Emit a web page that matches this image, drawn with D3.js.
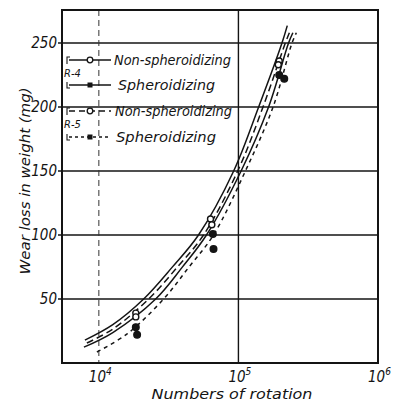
<!DOCTYPE html>
<html><head><meta charset="utf-8">
<script src="https://cdn.jsdelivr.net/npm/d3@7"></script>
<style>body{margin:0;background:#fff}svg{display:block}</style>
</head><body><svg id="c" width="403" height="405"></svg>
<script>
// ---- data ----
const yTicks = [50, 100, 150, 200, 250];
const xTicks = [1e4, 1e5, 1e6];
const xTickExp = ["4", "5", "6"];
const groupLabels = ["R-4", "R-5"];
const seriesNames = ["Non-spheroidizing", "Spheroidizing", "Non-spheroidizing", "Spheroidizing"];

// fitted curves: rotations / wear loss (mg)
const curveR4N_x = [7943, 12590, 20940, 33570, 51760, 92470, 139600, 205100, 223900];
const curveR4N_y = [17.9, 30, 50, 74.9, 100, 150, 200, 250, 263.6];
const curveR5N_x = [8204, 12590, 22750, 36480, 56230, 98850, 150000, 216800, 231700];
const curveR5N_y = [15.6, 26.5, 50, 74.9, 100, 150, 200, 250, 258];
const curveR4S_x = [7816, 12590, 25530, 39630, 59020, 104500, 164400, 228600, 245500];
const curveR4S_y = [12.4, 23.8, 50, 74.9, 100, 150, 200, 250, 258];
const curveR5S_x = [9683, 15850, 29110, 44160, 66220, 112200, 177000, 242100, 260000];
const curveR5S_y = [8.6, 22.5, 50, 74.9, 100, 150, 200, 250, 258];

// measured points
const ptR4N_x = [18400, 63100, 196000], ptR4N_y = [39, 112.5, 236];
const ptR5N_x = [18400, 64500, 193000], ptR5N_y = [36, 108, 233];
const ptR4S_x = [18400, 65600, 196000], ptR4S_y = [28, 100.8, 225];
const ptR5S_x = [18800, 66300, 213000], ptR5S_y = [22, 89, 222];

// ---- chart ----
const svg = d3.select("#c");
const L = 62, R = 378, T = 10, B = 363;
const x = d3.scaleLog().domain([Math.pow(10, 3.736), 1e6]).range([L, R]);
const y = d3.scaleLinear().domain([0, 275.8]).range([B, T]);
const ink = "#141414";
const FONT = "'DejaVu Sans Condensed','DejaVu Sans',sans-serif";

// grid
const g = svg.append("g");
g.selectAll("line.h").data(yTicks).join("line")
  .attr("x1", L - 4).attr("x2", R).attr("y1", d => y(d)).attr("y2", d => y(d))
  .attr("stroke", ink).attr("stroke-width", 1.4);
g.append("line").attr("x1", x(1e4)).attr("x2", x(1e4)).attr("y1", T).attr("y2", B)
  .attr("stroke", "#333").attr("stroke-width", 1).attr("stroke-dasharray", "6,4");
g.append("line").attr("x1", x(1e5)).attr("x2", x(1e5)).attr("y1", T).attr("y2", B)
  .attr("stroke", ink).attr("stroke-width", 1.4);

// frame
svg.append("rect").attr("x", L).attr("y", T).attr("width", R - L).attr("height", B - T)
  .attr("fill", "none").attr("stroke", ink).attr("stroke-width", 2);

// y tick labels
svg.selectAll("text.yt").data(yTicks).join("text")
  .attr("x", L - 5).attr("y", d => y(d) + 5).attr("text-anchor", "end")
  .attr("font-family", FONT).attr("font-style", "italic").attr("font-size", 15)
  .attr("fill", ink).text(d => d);

// x tick labels
xTicks.forEach((v, i) => {
  const t = svg.append("text").attr("x", x(v) - 10).attr("y", 382)
    .attr("font-family", FONT).attr("font-style", "italic").attr("font-size", 15).attr("fill", ink);
  t.append("tspan").text("10");
  t.append("tspan").attr("dy", -7).attr("font-size", 10).text(xTickExp[i]);
});

// axis titles
svg.append("text").attr("x", 232).attr("y", 399).attr("text-anchor", "middle")
  .attr("font-family", FONT).attr("font-style", "italic").attr("font-size", 14)
  .attr("textLength", 161).attr("lengthAdjust", "spacingAndGlyphs")
  .attr("fill", ink).text("Numbers of rotation");
svg.append("text").attr("transform", "translate(30,181) rotate(-90)").attr("text-anchor", "middle")
  .attr("font-family", FONT).attr("font-style", "italic").attr("font-size", 14)
  .attr("textLength", 187).attr("lengthAdjust", "spacingAndGlyphs")
  .attr("fill", ink).text("Wear loss in weight (mg)");

// curves
const line = d3.line().x(d => x(d[0])).y(d => y(d[1])).curve(d3.curveCatmullRom.alpha(0.5));
const zip = (a, b) => a.map((v, i) => [v, b[i]]);
const curves = [
  {d: zip(curveR4N_x, curveR4N_y), dash: null},
  {d: zip(curveR5N_x, curveR5N_y), dash: "7,4"},
  {d: zip(curveR4S_x, curveR4S_y), dash: null},
  {d: zip(curveR5S_x, curveR5S_y), dash: "4,4"}
];
svg.selectAll("path.c").data(curves).join("path")
  .attr("d", c => line(c.d)).attr("fill", "none").attr("stroke", ink)
  .attr("stroke-width", 1.5).attr("stroke-dasharray", c => c.dash);

// points
const pts = [
  {d: zip(ptR4N_x, ptR4N_y), open: true},
  {d: zip(ptR5N_x, ptR5N_y), open: true},
  {d: zip(ptR4S_x, ptR4S_y), open: false},
  {d: zip(ptR5S_x, ptR5S_y), open: false}
];
pts.forEach(p => {
  svg.selectAll(null).data(p.d).join("circle")
    .attr("cx", d => x(d[0])).attr("cy", d => y(d[1])).attr("r", p.open ? 3 : 3.3)
    .attr("fill", p.open ? "#fff" : ink).attr("stroke", ink).attr("stroke-width", 1.4);
});

// legend
const legY = [60, 85, 111, 137];
const legDash = [null, null, "6,4", "3,3"];
const legOpen = [true, false, true, false];
const legTextX = [114, 118, 115, 116];
const legTextLen = [117, 97, 117, 100];
const lg = svg.append("g");
legY.forEach((ly, i) => {
  lg.append("line").attr("x1", 69).attr("x2", 111).attr("y1", ly).attr("y2", ly)
    .attr("stroke", ink).attr("stroke-width", 1.4).attr("stroke-dasharray", legDash[i]);
  if (legOpen[i]) {
    lg.append("circle").attr("cx", 90).attr("cy", ly).attr("r", 2.8)
      .attr("fill", "#fff").attr("stroke", ink).attr("stroke-width", 1.3);
  } else {
    lg.append("rect").attr("x", 87.5).attr("y", ly - 2.5).attr("width", 5).attr("height", 5).attr("fill", ink);
  }
  lg.append("text").attr("x", legTextX[i]).attr("y", ly + 5)
    .attr("font-family", FONT).attr("font-style", "italic").attr("font-size", 14)
    .attr("textLength", legTextLen[i]).attr("lengthAdjust", "spacingAndGlyphs")
    .attr("fill", ink).text(seriesNames[i]);
});
// brackets with group labels
[[0, 1], [2, 3]].forEach((pair, k) => {
  const y1 = legY[pair[0]] - 3, y2 = legY[pair[1]] + 3;
  lg.append("path").attr("d", `M70,${y1} L67,${y1} L67,${y1 + 7} M67,${y2 - 6} L67,${y2} L70,${y2}`)
    .attr("fill", "none").attr("stroke", ink).attr("stroke-width", 1.1);
  lg.append("text").attr("x", 64).attr("y", (y1 + y2) / 2 + 4)
    .attr("font-family", FONT).attr("font-style", "italic").attr("font-size", 11)
    .attr("fill", ink).text(groupLabels[k]);
});
</script></body></html>
